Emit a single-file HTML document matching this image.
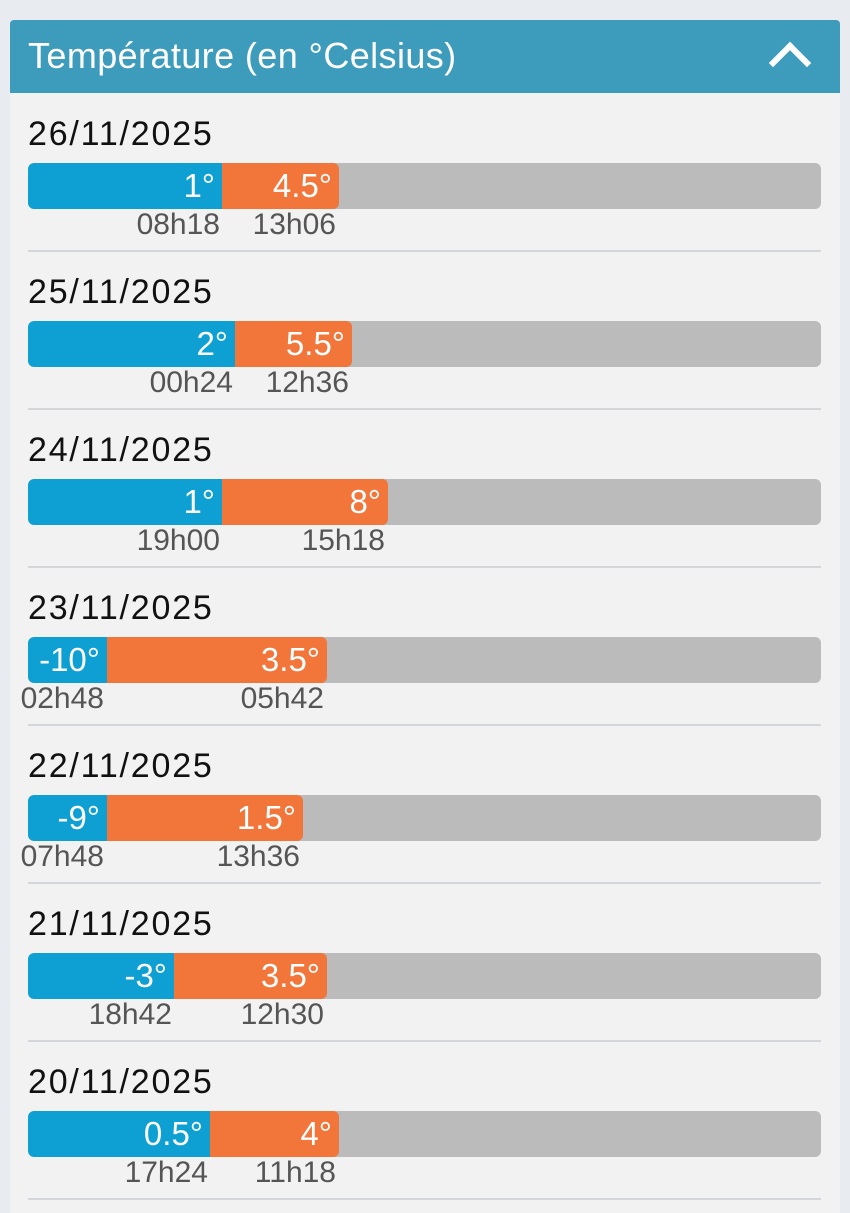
<!DOCTYPE html>
<html><head><meta charset="utf-8"><style>
*{margin:0;padding:0;box-sizing:border-box}
body{width:850px;height:1200px;background:#e8ebef;font-family:"Liberation Sans",sans-serif;position:relative;overflow:hidden}
.card{position:absolute;left:10px;top:93px;width:830px;height:1120px;background:#f2f2f2}
.hdr{position:absolute;left:10px;top:20px;width:830px;height:73px;background:#3d9bbb;border-radius:4px 4px 0 0}
.hdr span{position:absolute;left:18px;top:15px;color:#fff;font-size:36px;letter-spacing:0.4px}
.chev{position:absolute;left:765px;top:28px;width:30px;height:30px;border-left:6px solid #fff;border-top:6px solid #fff;transform:rotate(45deg)}
.row{position:absolute;left:0;width:850px;height:158px}
.date{position:absolute;left:28px;top:15px;font-size:34px;color:#111;letter-spacing:1.8px}
.bar{position:absolute;left:28px;top:63px;width:793px;height:46px;background:#bbbbbb;border-radius:6px;overflow:hidden}
.seg{position:absolute;top:0;height:46px;color:#fff;font-size:33px;text-align:right;line-height:46px;padding-right:7px}
.b{background:#0ea0d2;left:0;border-radius:6px 0 0 6px}
.o{background:#f27539;border-radius:0 6px 6px 0}
.t{position:absolute;top:108px;font-size:30px;color:#555;text-align:right;width:120px}
.sep{position:absolute;left:28px;top:150px;width:793px;height:2px;background:#d3d7db}
</style></head><body>
<div class="card"></div>
<div class="hdr"><span>Température (en °Celsius)</span><div class="chev"></div></div>

<div class="row" style="top:100px">
<div class="date">26/11/2025</div>
<div class="bar"><div class="seg b" style="width:194px">1°</div><div class="seg o" style="left:194px;width:117px">4.5°</div></div>
<div class="t" style="left:100px">08h18</div><div class="t" style="left:216px">13h06</div>
<div class="sep"></div></div>

<div class="row" style="top:258px">
<div class="date">25/11/2025</div>
<div class="bar"><div class="seg b" style="width:207px">2°</div><div class="seg o" style="left:207px;width:117px">5.5°</div></div>
<div class="t" style="left:113px">00h24</div><div class="t" style="left:229px">12h36</div>
<div class="sep"></div></div>

<div class="row" style="top:416px">
<div class="date">24/11/2025</div>
<div class="bar"><div class="seg b" style="width:194px">1°</div><div class="seg o" style="left:194px;width:166px">8°</div></div>
<div class="t" style="left:100px">19h00</div><div class="t" style="left:265px">15h18</div>
<div class="sep"></div></div>

<div class="row" style="top:574px">
<div class="date">23/11/2025</div>
<div class="bar"><div class="seg b" style="width:79px">-10°</div><div class="seg o" style="left:79px;width:220px">3.5°</div></div>
<div class="t" style="left:-16px">02h48</div><div class="t" style="left:204px">05h42</div>
<div class="sep"></div></div>

<div class="row" style="top:732px">
<div class="date">22/11/2025</div>
<div class="bar"><div class="seg b" style="width:79px">-9°</div><div class="seg o" style="left:79px;width:196px">1.5°</div></div>
<div class="t" style="left:-16px">07h48</div><div class="t" style="left:180px">13h36</div>
<div class="sep"></div></div>

<div class="row" style="top:890px">
<div class="date">21/11/2025</div>
<div class="bar"><div class="seg b" style="width:146px">-3°</div><div class="seg o" style="left:146px;width:153px">3.5°</div></div>
<div class="t" style="left:52px">18h42</div><div class="t" style="left:204px">12h30</div>
<div class="sep"></div></div>

<div class="row" style="top:1048px">
<div class="date">20/11/2025</div>
<div class="bar"><div class="seg b" style="width:182px">0.5°</div><div class="seg o" style="left:182px;width:129px">4°</div></div>
<div class="t" style="left:88px">17h24</div><div class="t" style="left:216px">11h18</div>
<div class="sep"></div></div>
</body></html>
